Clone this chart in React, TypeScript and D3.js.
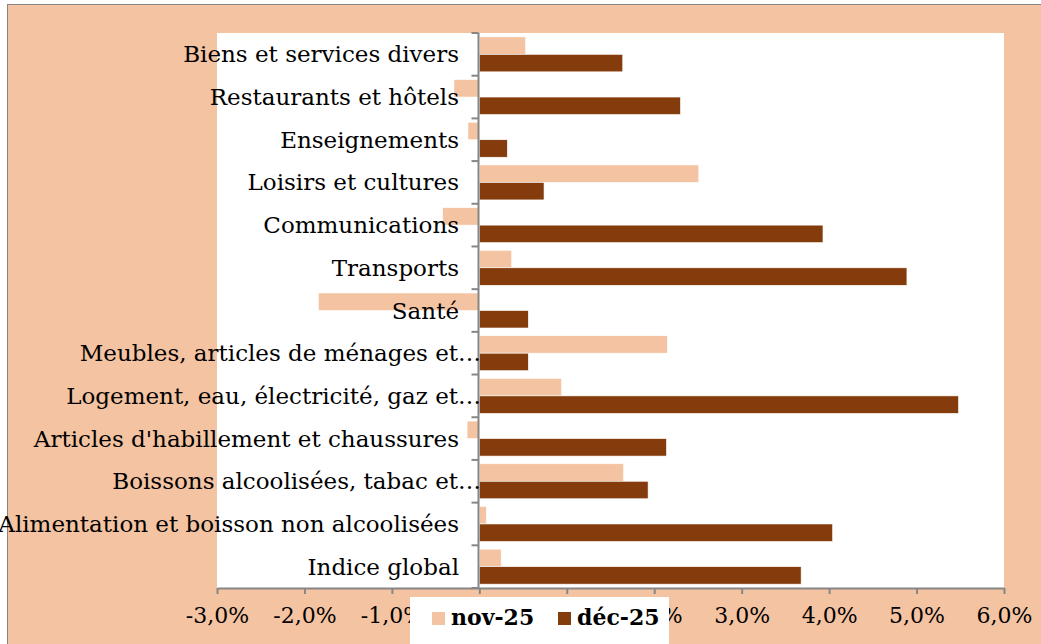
import React, { useRef, useEffect } from 'react';
import * as d3 from 'd3';

// Catégories, du haut vers le bas
const categories = [
  'Biens et services divers',
  'Restaurants et hôtels',
  'Enseignements',
  'Loisirs et cultures',
  'Communications',
  'Transports',
  'Santé',
  'Meubles, articles de ménages et…',
  'Logement, eau, électricité, gaz et…',
  "Articles d'habillement et chaussures",
  'Boissons alcoolisées, tabac et…',
  'Alimentation et boisson non alcoolisées',
  'Indice global',
];

const seriesNames = ['nov-25', 'déc-25'];
const nov25 = [0.53, -0.29, -0.13, 2.51, -0.42, 0.37, -1.84, 2.15, 0.94, -0.14, 1.65, 0.08, 0.25];
const dec25 = [1.64, 2.30, 0.32, 0.74, 3.93, 4.89, 0.56, 0.56, 5.48, 2.14, 1.93, 4.04, 3.68];
const xTicks = [-3, -2, -1, 0, 1, 2, 3, 4, 5, 6];

const W = 1041;
const H = 644;
const colors = { 'nov-25': '#F4C3A1', 'déc-25': '#843C0C' };
const bg = '#F4C3A1';
const axisGray = '#868686';
const font = '"DejaVu Serif", serif';

const App = () => {
  const svgRef = useRef<SVGSVGElement | null>(null);

  useEffect(() => {
    const svg = d3.select(svgRef.current);
    svg.selectAll('*').remove();

    // fond du graphique
    svg.append('rect').attr('x', 7).attr('y', 4).attr('width', W).attr('height', H).attr('fill', bg);
    svg.append('line').attr('x1', 7).attr('x2', W).attr('y1', 4.5).attr('y2', 4.5).attr('stroke', axisGray);
    svg.append('line').attr('x1', 7.5).attr('x2', 7.5).attr('y1', 4).attr('y2', H).attr('stroke', axisGray);

    const plot = { left: 217, right: 1004, top: 33, bottom: 588 };
    svg.append('rect')
      .attr('x', plot.left).attr('y', plot.top)
      .attr('width', plot.right - plot.left).attr('height', plot.bottom - plot.top)
      .attr('fill', '#fff');

    const x = d3.scaleLinear().domain([-3, 6]).range([plot.left, plot.right]);
    const y0 = d3.scaleBand<string>().domain(categories).range([plot.top, plot.bottom]).padding(0);
    const y1 = d3.scaleBand<string>().domain(seriesNames).range([0, y0.bandwidth()]).paddingOuter(0.22).paddingInner(0);

    const rows = categories.map((c, i) => ({ cat: c, values: [nov25[i], dec25[i]] }));

    // barres
    const groups = svg.append('g').selectAll('g').data(rows).join('g')
      .attr('transform', d => `translate(0,${y0(d.cat)})`);
    groups.selectAll('rect')
      .data(d => d.values.map((v, k) => ({ key: seriesNames[k], v })))
      .join('rect')
      .attr('x', d => x(Math.min(0, d.v)))
      .attr('y', d => y1(d.key)!)
      .attr('width', d => Math.abs(x(d.v) - x(0)))
      .attr('height', y1.bandwidth())
      .attr('fill', d => colors[d.key as keyof typeof colors])
      .attr('stroke', '#fff')
      .attr('stroke-width', 0.6);

    // axe vertical (à zéro)
    const x0 = Math.round(x(0)) - 0.5;
    const yAxis = svg.append('g');
    yAxis.append('line')
      .attr('x1', x0).attr('x2', x0).attr('y1', plot.top).attr('y2', plot.bottom)
      .attr('stroke', axisGray).attr('stroke-width', 2);
    const bounds = categories.map(c => y0(c)!).concat([plot.bottom]);
    yAxis.selectAll('line.tick').data(bounds).join('line')
      .attr('class', 'tick')
      .attr('x1', x0 - 7).attr('x2', x0)
      .attr('y1', d => d).attr('y2', d => d)
      .attr('stroke', axisGray).attr('stroke-width', 2);

    // libellés des catégories
    svg.append('g').selectAll('text').data(categories).join('text')
      .attr('x', d => (d.endsWith('…') ? 481 : 459))
      .attr('y', d => y0(d)! + y0.bandwidth() / 2)
      .attr('dy', '0.35em')
      .attr('text-anchor', 'end')
      .attr('font-family', font)
      .attr('font-size', 23)
      .attr('fill', '#000')
      .text(d => d);

    // axe horizontal
    const xAxis = svg.append('g').attr('transform', `translate(0,${plot.bottom})`)
      .call(d3.axisBottom(x).tickValues(xTicks).tickSizeInner(6).tickSizeOuter(0)
        .tickFormat(d => `${(+d).toFixed(1).replace('.', ',')}%`));
    xAxis.select('.domain').attr('stroke', axisGray).attr('stroke-width', 2);
    xAxis.selectAll('.tick line').attr('stroke', axisGray).attr('stroke-width', 2);
    xAxis.selectAll('.tick text')
      .attr('y', 35).attr('dy', 0)
      .attr('font-family', font).attr('font-size', 22).attr('fill', '#000');

    // légende
    const lg = svg.append('g');
    lg.append('rect').attr('x', 410).attr('y', 597).attr('width', 259).attr('height', 50).attr('fill', '#fff');
    const items = lg.selectAll('g').data(seriesNames).join('g')
      .attr('transform', (d, i) => `translate(${432 + i * 126},0)`);
    items.append('rect').attr('x', 0).attr('y', 612).attr('width', 13).attr('height', 13)
      .attr('fill', d => colors[d as keyof typeof colors]);
    items.append('text').attr('x', 19).attr('y', 625)
      .attr('font-family', font).attr('font-weight', 'bold').attr('font-size', 22)
      .attr('fill', '#000')
      .text(d => d);
  }, []);

  return (
    <svg ref={svgRef} width={W} height={H} style={{ position: 'absolute', left: 0, top: 0 }} />
  );
};

export default App;
